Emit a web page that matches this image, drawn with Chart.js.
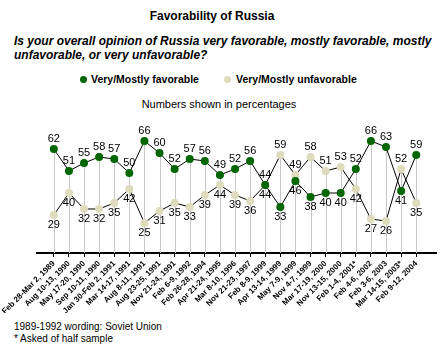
<!DOCTYPE html>
<html>
<head>
<meta charset="utf-8">
<script src="https://cdn.jsdelivr.net/npm/chart.js@4/dist/chart.umd.min.js"></script>
<style>
  body { margin: 0; background: #fff; font-family: Arial, "Liberation Sans", sans-serif; color: #000; }
  #page { position: relative; width: 440px; height: 350px; overflow: hidden; }
  .t { position: absolute; white-space: nowrap; }
  #title { left: 0; width: 424px; top: 9px; text-align: center; font-size: 12px; font-weight: bold; }
  #question { left: 14px; top: 34px; font-size: 12px; font-weight: bold; font-style: italic; line-height: 14px; }
  .dot { position: absolute; width: 7px; height: 7px; border-radius: 50%; }
  .leg { font-size: 10.5px; font-weight: bold; top: 73px; }
  #sub { left: 0; width: 438px; top: 98px; text-align: center; font-size: 11px; }
  .foot { left: 14px; font-size: 10px; }
  #chart { position: absolute; left: 0; top: 110px; }
</style>
</head>
<body>
<div id="page">
  <div class="t" id="title">Favorability of Russia</div>
  <div class="t" id="question">Is your overall opinion of Russia very favorable, mostly favorable, mostly<br>unfavorable, or very unfavorable?</div>
  <div class="dot" style="left:80px;top:76px;background:#006600"></div>
  <div class="t leg" style="left:91px">Very/Mostly favorable</div>
  <div class="dot" style="left:224px;top:76px;background:#dedcbc"></div>
  <div class="t leg" style="left:236px">Very/Mostly unfavorable</div>
  <div class="t" id="sub">Numbers shown in percentages</div>
  <div class="t foot" style="top:321px">1989-1992 wording: Soviet Union</div>
  <div class="t foot" style="top:333px">* Asked of half sample</div>
  <canvas id="chart" width="440" height="203"></canvas>
</div>
<script>
// survey dates (x axis)
const dates = [
    "Feb 28-Mar 2, 1989", "Aug 10-13, 1990", "May 17-20, 1990", "Sep 10-11, 1990",
    "Jan 30-Feb 2, 1991", "Mar 14-17, 1991", "Aug 8-11, 1991", "Aug 23-25, 1991",
    "Nov 21-24, 1991", "Feb 6-9, 1992", "Feb 26-28, 1994", "Apr 21-24, 1995",
    "Mar 8-10, 1996", "Nov 21-23, 1997", "Feb 8-9, 1999", "Apr 13-14, 1999",
    "May 7-9, 1999", "Nov 4-7, 1999", "Mar 17-19, 2000", "Nov 13-15, 2000",
    "Feb 1-4, 2001*", "Feb 4-6, 2002", "Feb 3-6, 2003", "Mar 14-15, 2003*",
    "Feb 9-12, 2004"
];

const favorable   = [62, 51, 55, 58, 57, 50, 66, 60, 52, 57, 56, 49, 52, 56, 44, 33, 46, 38, 40, 40, 52, 66, 63, 41, 59];
const unfavorable = [29, 40, 32, 32, 35, 42, 25, 31, 35, 33, 39, 44, 39, 36, 44, 59, 49, 58, 51, 53, 42, 27, 26, 52, 35];

const GREEN = "#006600";
const BEIGE = "#dedcbc";

const toPoints = arr => arr.map((v, i) => ({ x: i, y: v }));

// gray drop lines from the upper point down to the axis
const dropLines = {
    id: "dropLines",
    beforeDatasetsDraw(chart) {
        const { ctx, scales: { x, y }, chartArea } = chart;
        ctx.save();
        ctx.strokeStyle = "#c8c8c8";
        ctx.lineWidth = 1;
        dates.forEach((d, i) => {
            const px = Math.round(x.getPixelForValue(i)) + 0.5;
            const top = y.getPixelForValue(Math.max(favorable[i], unfavorable[i]));
            ctx.beginPath();
            ctx.moveTo(px, top);
            ctx.lineTo(px, chartArea.bottom);
            ctx.stroke();
        });
        ctx.restore();
    }
};

// value labels: higher value above its point, lower one below
const valueLabels = {
    id: "valueLabels",
    afterDatasetsDraw(chart) {
        const { ctx, scales: { x, y } } = chart;
        ctx.save();
        ctx.font = "11px Arial, 'Liberation Sans', sans-serif";
        ctx.fillStyle = "#000";
        ctx.textAlign = "center";
        ctx.textBaseline = "middle";
        dates.forEach((d, i) => {
            const px = x.getPixelForValue(i);
            const f = favorable[i], u = unfavorable[i];
            const fUp = f >= u;
            ctx.fillText(f, px, y.getPixelForValue(f) + (fUp ? -10 : 10));
            ctx.fillText(u, px, y.getPixelForValue(u) + (fUp ? 10 : -10));
        });
        ctx.restore();
    }
};

new Chart(document.getElementById("chart").getContext("2d"), {
    type: "line",
    data: {
        datasets: [
            {
                label: "Very/Mostly favorable",
                data: toPoints(favorable),
                borderColor: "#000",
                borderWidth: 1,
                pointRadius: 4,
                pointBackgroundColor: GREEN,
                pointBorderColor: GREEN,
                pointBorderWidth: 0,
                tension: 0
            },
            {
                label: "Very/Mostly unfavorable",
                data: toPoints(unfavorable),
                borderColor: "#000",
                borderWidth: 1,
                pointRadius: 4,
                pointBackgroundColor: BEIGE,
                pointBorderColor: BEIGE,
                pointBorderWidth: 0,
                tension: 0
            }
        ]
    },
    options: {
        responsive: false,
        animation: false,
        devicePixelRatio: 1,
        layout: { padding: { top: 10, left: 37, right: 0, bottom: 0 } },
        plugins: { legend: { display: false }, tooltip: { enabled: false } },
        scales: {
            x: {
                type: "linear",
                min: -1.115,
                max: 25.31,
                afterBuildTicks: scale => {
                    scale.ticks = dates.map((d, i) => ({ value: i }));
                },
                afterFit: scale => {
                    scale.paddingLeft = 0;
                    scale.paddingRight = 0;
                    scale.height = 60;
                },
                border: { display: true, color: "#000", width: 2 },
                grid: { drawOnChartArea: false, drawTicks: true, tickLength: 4, color: "#000" },
                ticks: {
                    autoSkip: false,
                    minRotation: 45,
                    maxRotation: 45,
                    padding: 2,
                    color: "#000",
                    font: { family: "Arial, 'Liberation Sans', sans-serif", size: 8, weight: "bold" },
                    callback: value => dates[value]
                }
            },
            y: {
                display: false,
                min: 10,
                max: 76.5
            }
        }
    },
    plugins: [dropLines, valueLabels]
});
</script>
</body>
</html>
